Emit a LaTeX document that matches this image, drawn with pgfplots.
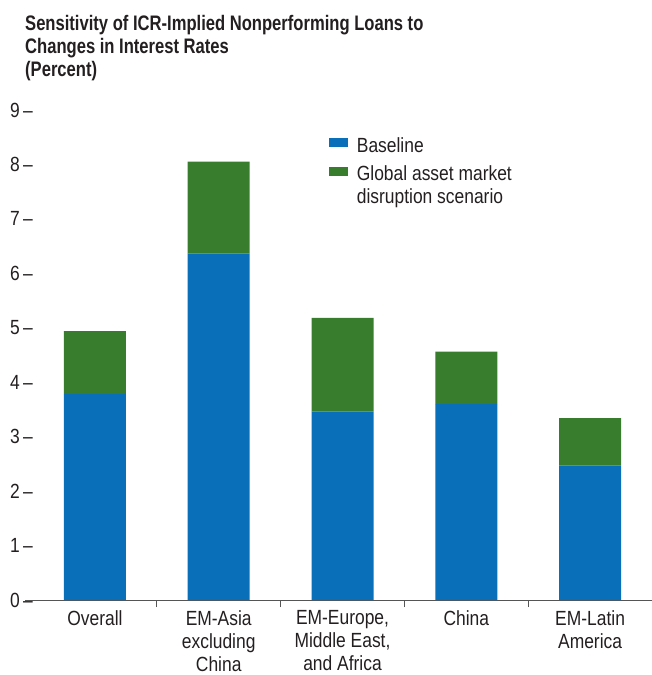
\documentclass[border=0pt]{standalone}
\usepackage{fontspec}
\setmainfont{Liberation Sans}[FakeStretch=0.85]
\newfontfamily\titlefont{Liberation Sans}[FakeStretch=0.79]
\usepackage{pgfplots}
\pgfplotsset{compat=1.18}
\definecolor{base}{RGB}{10,111,185}
\definecolor{glob}{RGB}{56,124,45}
\definecolor{txt}{RGB}{35,31,32}
\definecolor{axl}{RGB}{85,85,85}
\newcommand{\lblfont}{\fontsize{20.5}{23}\selectfont}
\begin{document}
\begin{tikzpicture}
\begin{axis}[
  at={(0pt,0pt)}, anchor=south west,
  scale only axis, width=619pt, height=490pt,
  ybar stacked, bar width=62pt,
  xmin=-0.5, xmax=4.5, ymin=0, ymax=9,
  axis x line*=bottom, axis y line*=left,
  separate axis lines,
  y axis line style={draw=none},
  x axis line style={draw=axl, line width=1pt, -, shorten <=-8pt},
  tick align=outside,
  ytick={0,...,9},
  ytick style={draw=none},
  /pgf/number format/assume math mode=true,
  yticklabel={\pgfmathprintnumber{\tick}\,\textendash},
  yticklabel style={anchor=east, inner sep=0pt, xshift=7pt, font=\lblfont, text=txt},
  xtick={0.5,1.5,2.5,3.5},
  xticklabels={},
  xtick style={draw=axl, line width=1pt},
  major tick length=7pt,
  extra x ticks={0,1,2,3,4},
  extra x tick labels={Overall,{EM-Asia\\excluding\\China},{EM-Europe,\\Middle East,\\and Africa},China,{EM-Latin\\America}},
  extra x tick style={major tick length=0pt, xtick style={draw=none}},
  xticklabel style={align=center, anchor=north, inner sep=0pt, yshift=-10pt, font=\lblfont, text=txt},
  legend style={at={(axis description cs:0.478,0.951)}, anchor=north west, draw=none, fill=none,
    inner sep=0pt, outer sep=0pt, row sep=7pt, column sep=7pt, font=\lblfont, text=txt,
    cells={anchor=base west, inner sep=0pt}},
  legend cell align=left,
]
\addplot[fill=base, draw=none, legend image code/.code={\fill[base] (0pt,-2.5pt) rectangle (19pt,6.5pt);}]
  coordinates {(0,3.78) (1,6.36) (2,3.46) (3,3.60) (4,2.47)};
\addlegendentry{\begin{tabular}[t]{@{}l@{}}Baseline\end{tabular}}
\addplot[fill=glob, draw=none, legend image code/.code={\fill[glob] (0pt,-2.5pt) rectangle (19pt,6.5pt);}]
  coordinates {(0,1.16) (1,1.69) (2,1.72) (3,0.96) (4,0.87)};
\addlegendentry{\begin{tabular}[t]{@{}l@{}}Global asset market\\disruption scenario\end{tabular}}
\end{axis}
\node[anchor=north west, inner sep=0pt, align=left, text=txt,
  font=\titlefont\bfseries\fontsize{21}{23}\selectfont] at (-8pt,585pt)
  {Sensitivity of ICR-Implied Nonperforming Loans to\\Changes in Interest Rates\\(Percent)};
\pgfresetboundingbox
\path (-33pt,-75pt) rectangle (619pt,600pt);
\end{tikzpicture}
\end{document}
